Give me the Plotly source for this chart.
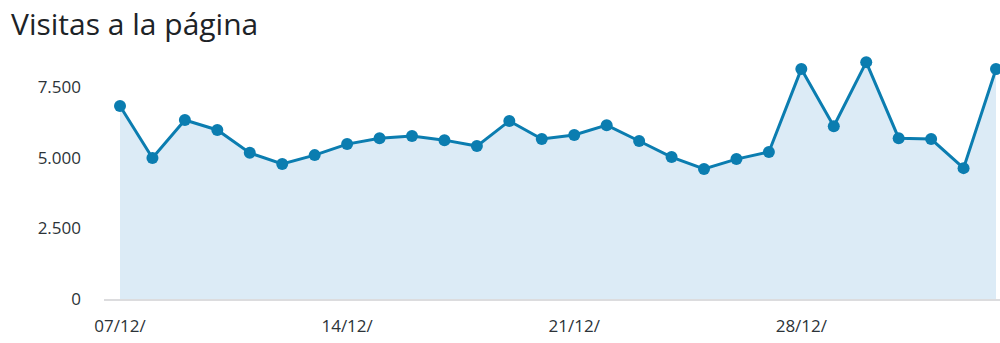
import plotly.graph_objects as go

dates = [
    "2020-12-07", "2020-12-08", "2020-12-09", "2020-12-10", "2020-12-11", "2020-12-12", "2020-12-13",
    "2020-12-14", "2020-12-15", "2020-12-16", "2020-12-17", "2020-12-18", "2020-12-19", "2020-12-20",
    "2020-12-21", "2020-12-22", "2020-12-23", "2020-12-24", "2020-12-25", "2020-12-26", "2020-12-27",
    "2020-12-28", "2020-12-29", "2020-12-30", "2020-12-31", "2021-01-01", "2021-01-02", "2021-01-03",
]
visits = [
    6830, 4990, 6330, 5980, 5170, 4780, 5090,
    5480, 5690, 5770, 5620, 5410, 6300, 5660,
    5800, 6150, 5590, 5020, 4600, 4950, 5200,
    8140, 6110, 8380, 5690, 5660, 4630, 8140,
]
y_ticks = [0, 2500, 5000, 7500]
y_tick_labels = ["0", "2.500", "5.000", "7.500"]

LINE = "#0B7DB0"
FILL = "#DCEBF6"
TEXT = "#2C3338"

fig = go.Figure()
fig.add_trace(go.Scatter(
    x=dates, y=visits,
    mode="lines+markers",
    line=dict(color=LINE, width=3),
    marker=dict(color=LINE, size=12),
    fill="tozeroy",
    fillcolor=FILL,
    hoverinfo="skip",
    showlegend=False,
))

fig.update_layout(
    width=1000, height=343,
    margin=dict(l=104, r=0, t=50, b=44),
    paper_bgcolor="white",
    plot_bgcolor="white",
    font=dict(family="Open Sans", color=TEXT, size=17),
    title=dict(
        text="Visitas a la página",
        x=11 / 1000, xanchor="left", xref="container",
        y=1 - 24 / 343, yanchor="middle", yref="container",
        font=dict(family="Open Sans", size=30, color="#1D2327"),
    ),
)
fig.update_xaxes(
    type="date",
    range=["2020-12-06 12:10", "2021-01-03 02:57"],
    tick0="2020-12-07",
    dtick=7 * 86400000,
    tickformat="%d/%m/",
    showgrid=False,
    zeroline=False,
    showline=True,
    linecolor="#DCDCDE",
    linewidth=2,
    ticks="",
    ticklabelstandoff=11,
    tickfont=dict(size=17, color=TEXT),
)
fig.update_yaxes(
    range=[0, 8809],
    tickvals=y_ticks,
    ticktext=y_tick_labels,
    showgrid=False,
    zeroline=False,
    showline=False,
    ticks="",
    ticklabelstandoff=22,
    tickfont=dict(size=17, color=TEXT),
)

fig.write_html("out.html")
